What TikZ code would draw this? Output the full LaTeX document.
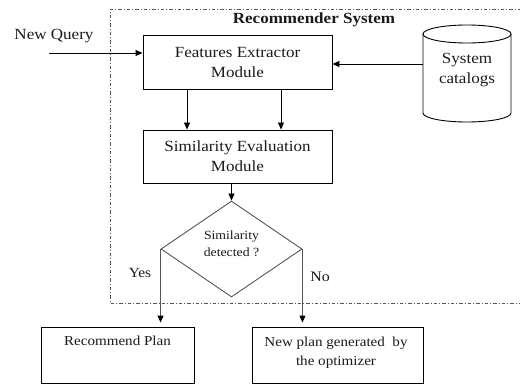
\documentclass[tikz,border=0pt]{standalone}
\usepackage{fontspec}
\setmainfont{Liberation Serif}[FakeStretch=1.1]
\usetikzlibrary{shapes.geometric,arrows.meta}
\definecolor{lgray}{HTML}{555555}
\definecolor{txt}{HTML}{1A1A1A}
\begin{document}
\begin{tikzpicture}[x=1pt,y=-1pt,
  box/.style={draw=black,line width=0.9pt,inner sep=0pt,align=center,text=txt},
  mainfont/.style={font=\fontsize{15.5}{20}\selectfont},
  lowfont/.style={font=\fontsize{13.7}{19}\selectfont},
  lbl/.style={inner sep=0pt,align=center,text=txt},
  arr/.style={-{Triangle[length=7pt,width=6pt]},line width=0.8pt,draw=black},
  garr/.style={-{Triangle[length=7pt,width=6pt,color=black]},line width=0.9pt,draw=lgray},
  sysbox/.style={draw=lgray,line width=0.8pt,dash pattern=on 3.5pt off 2pt on 1pt off 2pt}]
\useasboundingbox (0,0) rectangle (520,386);
% system boundary
\draw[sysbox] (521,9) -- (110,9) -- (110,303) -- (521,303);
\node[lbl,font=\fontsize{15.5}{20}\selectfont\bfseries] (title) at (314,20) {Recommender System};
% modules
\node[box,mainfont,minimum width=189pt,minimum height=54pt] (fe) at (237.5,62) {Features Extractor\\Module};
\node[box,mainfont,minimum width=189pt,minimum height=53pt] (se) at (237.5,156.5) {Similarity Evaluation\\Module};
% cylinder
\draw[line width=0.9pt,draw=black] (423,34) -- (423,113) arc[start angle=180,end angle=0,x radius=44,y radius=9] -- (511,34);
\draw[line width=0.9pt,draw=black] (467,34) ellipse[x radius=44,y radius=9];
\node[lbl,mainfont,minimum width=88pt] (cat) at (467,70) {System\\catalogs};
% new query
\node[lbl,mainfont] (nq) at (54,36) {New Query};
\coordinate (qs) at (49,53);
\draw[arr] (qs) -- (qs -| fe.west);
\coordinate (cy) at (423,64);
\draw[arr] (cy) -- (cy -| fe.east);
\coordinate (c1) at (187,0);
\coordinate (c2) at (281,0);
\draw[arr] (fe.south -| c1) -- (se.north -| c1);
\draw[arr] (fe.south -| c2) -- (se.north -| c2);
% decision
\node[diamond,draw=lgray,line width=0.9pt,minimum width=141pt,minimum height=96pt,aspect=1.47,inner sep=0pt] (dec) at (231.5,249) {};
\node[lbl,font=\fontsize{12.5}{17}\selectfont] (dq) at (231.5,243.5) {Similarity\\detected ?};
\draw[arr] (dec.north |- se.south) -- (dec.north);
% outcomes
\node[box,minimum width=153pt,minimum height=56pt] (rp) at (117.5,355) {};
\node[lbl,lowfont] (rpt) at (117.5,341) {Recommend Plan};
\node[box,minimum width=171pt,minimum height=56pt] (np) at (337.5,355) {};
\node[lbl,lowfont] (npt) at (336,352.5) {New plan generated\ \ by\\the optimizer};
\draw[garr,shorten >=4pt] (dec.west) -- (dec.west |- rp.north);
\draw[garr,shorten >=4pt] (dec.east) -- (dec.east |- np.north);
\node[lbl,font=\fontsize{14}{18}\selectfont] (yes) at (140,273) {Yes};
\node[lbl,font=\fontsize{14.5}{18}\selectfont] (no) at (320,277) {No};
\end{tikzpicture}
\end{document}
